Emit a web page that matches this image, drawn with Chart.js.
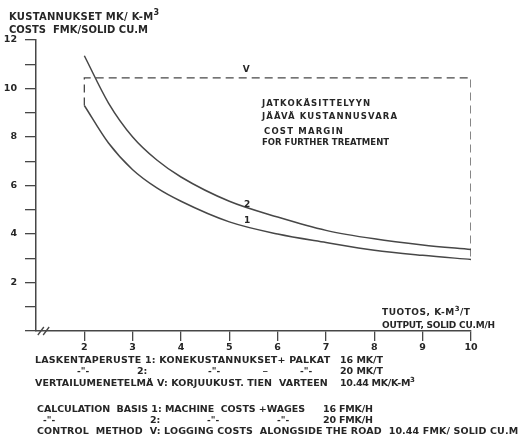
<!DOCTYPE html>
<html>
<head>
<meta charset="utf-8">
<script src="https://cdn.jsdelivr.net/npm/chart.js@4.4.1/dist/chart.umd.min.js"></script>
<style>
  html, body { margin: 0; padding: 0; background: #ffffff; }
  #wrap { width: 526px; height: 440px; }
</style>
</head>
<body>
<div id="wrap"><canvas id="c" width="526" height="440"></canvas></div>
<script>
// Output, solid cu.m per hour
const outputX = [2, 2.5, 3, 3.5, 4, 5, 6, 7, 8, 9, 10];
// Cost per solid cu.m, basis 1 (16 FMK/h)
const costBasis1 = [9.3, 7.75, 6.65, 5.9, 5.35, 4.5, 4.0, 3.65, 3.33, 3.12, 2.95];
// Cost per solid cu.m, basis 2 (20 FMK/h)
const costBasis2 = [11.35, 9.4, 8.0, 7.05, 6.35, 5.35, 4.7, 4.15, 3.8, 3.55, 3.36];
// Control method V: logging costs alongside the road
const controlCostV = 10.44;
const xTickValues = [2, 3, 4, 5, 6, 7, 8, 9, 10];
const yLabelValues = [2, 4, 6, 8, 10, 12];

const INK = '#262626';
const LINE = '#474747';
const FONT = '"DejaVu Sans", "Liberation Sans", sans-serif';

const pts = (xs, ys) => xs.map((x, i) => ({ x: x, y: ys[i] }));
const first = outputX[0], last = outputX[outputX.length - 1];
const marginBox = [
  { x: first, y: costBasis1[0] },
  { x: first, y: controlCostV },
  { x: last, y: controlCostV },
  { x: last, y: costBasis1[costBasis1.length - 1] }
];

// Text from left x at vertical centre y, stretched to a width;
// a '³' is set as a raised, smaller 3.
function fitText(ctx, text, x, y, width, size) {
  const parts = text.split('³');
  const main = 'bold ' + size + 'px ' + FONT;
  const sup = 'bold ' + Math.round(size * 0.75) + 'px ' + FONT;
  ctx.letterSpacing = '0px';
  let natural = 0, count = 0;
  parts.forEach((p, i) => {
    ctx.font = main;
    natural += ctx.measureText(p).width;
    count += [...p].length;
    if (i < parts.length - 1) {
      ctx.font = sup;
      natural += ctx.measureText('3').width;
      count += 1;
    }
  });
  const spacing = (width && count > 1) ? (width - natural) / (count - 1) : 0;
  ctx.letterSpacing = spacing.toFixed(2) + 'px';
  let cx = x;
  parts.forEach((p, i) => {
    ctx.font = main;
    ctx.fillText(p, cx, y);
    cx += ctx.measureText(p).width;
    if (i < parts.length - 1) {
      ctx.font = sup;
      ctx.fillText('3', cx, y - size * 0.4);
      cx += ctx.measureText('3').width;
    }
  });
  ctx.letterSpacing = '0px';
}

const textPlugin = {
  id: 'annotationsText',
  afterDraw(chart) {
    const ctx = chart.ctx;
    const xs = chart.scales.x, ys = chart.scales.y;
    ctx.save();
    ctx.fillStyle = INK;
    ctx.textBaseline = 'middle';
    ctx.textAlign = 'left';

    // axis titles
    fitText(ctx, 'KUSTANNUKSET MK/ K-M³', 9, 17, 150, 10);
    fitText(ctx, 'COSTS  FMK/SOLID CU.M', 9, 30, 139, 10);
    fitText(ctx, 'TUOTOS, K-M³/T', 382, 313, 88, 9);
    fitText(ctx, 'OUTPUT, SOLID CU.M/H', 382, 326, 113, 9);

    // margin box annotation
    fitText(ctx, 'JATKOKÄSITTELYYN', 262, 104, 108, 8.5);
    fitText(ctx, 'JÄÄVÄ KUSTANNUSVARA', 262, 117, 135, 8.5);
    fitText(ctx, 'COST MARGIN', 264, 132, 79, 8.5);
    fitText(ctx, 'FOR FURTHER TREATMENT', 262, 143, 127, 8.5);

    // curve and line labels
    ctx.textAlign = 'center';
    ctx.font = 'bold 9px ' + FONT;
    ctx.fillText('V', xs.getPixelForValue(5.35), ys.getPixelForValue(controlCostV) - 8);
    ctx.fillText('2', xs.getPixelForValue(5.37), ys.getPixelForValue(5.2));
    ctx.fillText('1', xs.getPixelForValue(5.37), ys.getPixelForValue(4.53));
    ctx.textAlign = 'left';

    // calculation notes
    const ns = 9.5;
    fitText(ctx, 'LASKENTAPERUSTE 1: KONEKUSTANNUKSET+ PALKAT', 35, 361, 295, ns);
    fitText(ctx, '16 MK/T', 340, 361, 43, ns);
    fitText(ctx, '-"-', 77, 372, 0, 9);
    fitText(ctx, '2:', 137, 372, 0, ns);
    fitText(ctx, '-"-', 208, 372, 0, 9);
    fitText(ctx, '_', 263, 368, 0, 9);
    fitText(ctx, '-"-', 300, 372, 0, 9);
    fitText(ctx, '20 MK/T', 340, 372, 43, ns);
    fitText(ctx, 'VERTAILUMENETELMÄ V: KORJUUKUST. TIEN  VARTEEN', 35, 384, 293, ns);
    fitText(ctx, '10.44 MK/K-M³', 340, 384, 75, ns);

    fitText(ctx, 'CALCULATION  BASIS 1: MACHINE  COSTS +WAGES', 37, 410, 268, ns);
    fitText(ctx, '16 FMK/H', 323, 410, 50, ns);
    fitText(ctx, '-"-', 43, 421, 0, 9);
    fitText(ctx, '2:', 150, 421, 0, ns);
    fitText(ctx, '-"-', 207, 421, 0, 9);
    fitText(ctx, '-"-', 277, 421, 0, 9);
    fitText(ctx, '20 FMK/H', 323, 421, 50, ns);
    fitText(ctx, 'CONTROL  METHOD  V: LOGGING COSTS  ALONGSIDE THE ROAD  10.44 FMK/ SOLID CU.M', 37, 432, 481, ns);

    // axis break marks
    ctx.strokeStyle = LINE;
    ctx.lineWidth = 1.3;
    const by = ys.getPixelForValue(0);
    [1.1, 1.21].forEach(v => {
      const px = xs.getPixelForValue(v);
      ctx.beginPath();
      ctx.moveTo(px - 3, by + 4);
      ctx.lineTo(px + 3, by - 4);
      ctx.stroke();
    });
    ctx.restore();
  }
};

new Chart(document.getElementById('c'), {
  type: 'line',
  data: {
    datasets: [
      {
        label: '1',
        data: pts(outputX, costBasis1),
        borderColor: LINE, borderWidth: 1.5,
        pointRadius: 0, cubicInterpolationMode: 'monotone', fill: false
      },
      {
        label: '2',
        data: pts(outputX, costBasis2),
        borderColor: LINE, borderWidth: 1.5,
        pointRadius: 0, cubicInterpolationMode: 'monotone', fill: false
      },
      {
        label: 'V',
        data: marginBox,
        borderColor: LINE, borderWidth: 1.3, borderDash: [8, 5],
        pointRadius: 0, tension: 0, fill: false
      }
    ]
  },
  options: {
    responsive: false,
    animation: false,
    devicePixelRatio: 1,
    layout: { padding: { top: 40, right: 55, left: 0, bottom: 0 } },
    plugins: { legend: { display: false }, tooltip: { enabled: false } },
    scales: {
      x: {
        type: 'linear',
        min: 1, max: 10,
        afterBuildTicks(scale) { scale.ticks = xTickValues.map(v => ({ value: v })); },
        afterFit(scale) { scale.height = 109; },
        border: { display: true, color: LINE, width: 1.5 },
        grid: { drawOnChartArea: false, drawTicks: true, tickLength: 10, color: LINE, lineWidth: 1.3 },
        ticks: {
          color: INK, padding: 1, maxRotation: 0,
          font: { family: FONT, size: 9.5, weight: 'bold' },
          callback: v => String(v)
        }
      },
      y: {
        type: 'linear',
        min: 0, max: 12,
        afterBuildTicks(scale) {
          const t = [];
          for (let v = 0; v <= 12; v++) t.push({ value: v });
          scale.ticks = t;
        },
        afterFit(scale) { scale.width = 36; },
        border: { display: true, color: LINE, width: 1.5 },
        grid: { drawOnChartArea: false, drawTicks: true, tickLength: 11, color: LINE, lineWidth: 1.3 },
        ticks: {
          color: INK, padding: 8,
          font: { family: FONT, size: 9.5, weight: 'bold' },
          callback: v => (yLabelValues.includes(v) ? String(v) : '')
        }
      }
    }
  },
  plugins: [textPlugin]
});
</script>
</body>
</html>
